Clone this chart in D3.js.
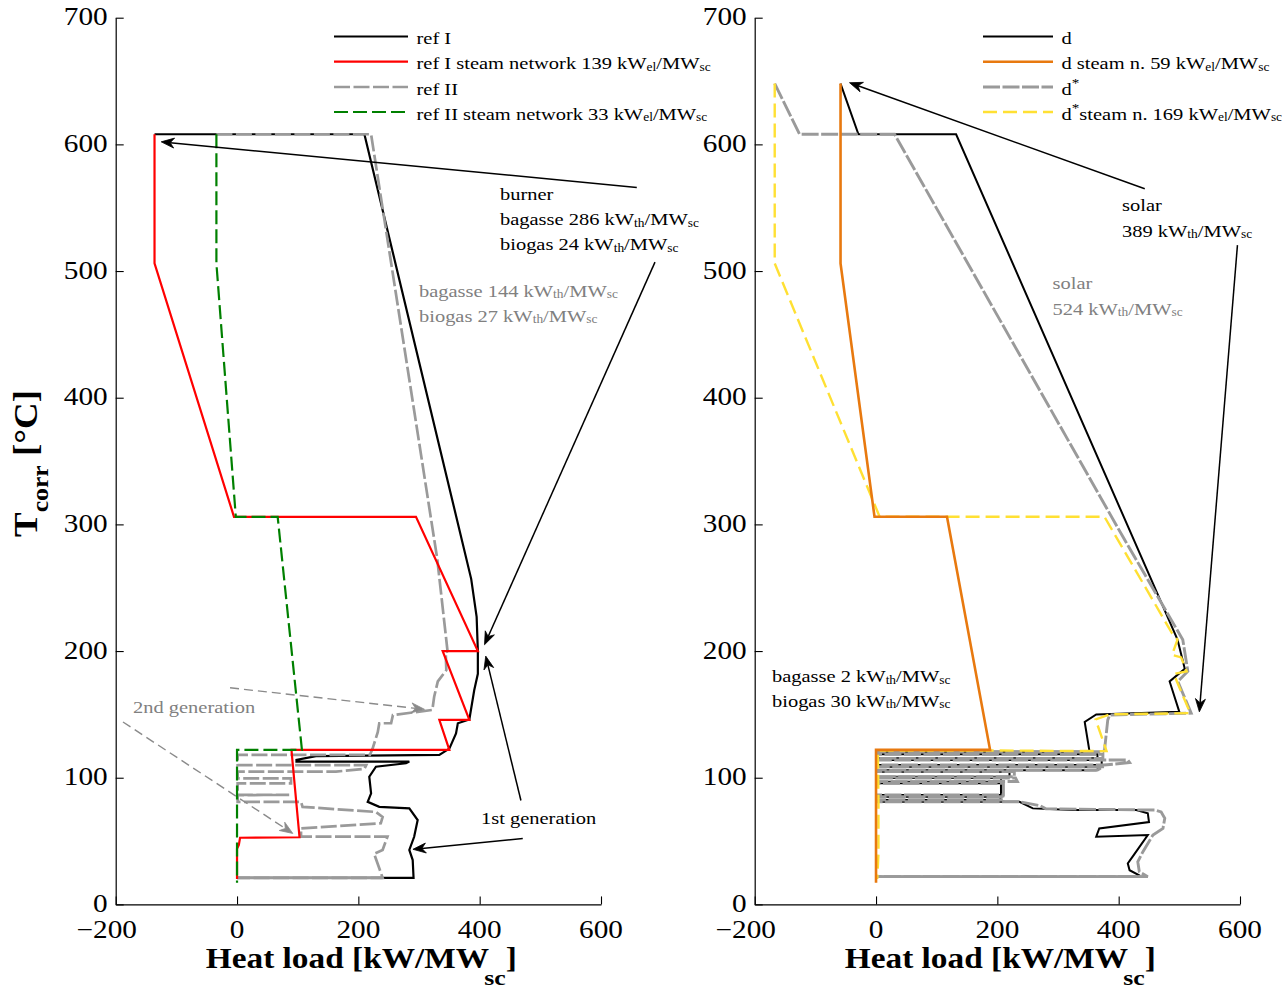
<!DOCTYPE html>
<html><head><meta charset="utf-8">
<script src="https://cdn.jsdelivr.net/npm/d3@7"></script>
<style>html,body{margin:0;padding:0;background:#fff} text{white-space:pre}</style>
</head><body><svg id="c" width="1285" height="989"></svg>
<script>
// ---------------- data ----------------
const xTicks = [-200, 0, 200, 400, 600];
const yTicks = [0, 100, 200, 300, 400, 500, 600, 700];

// left panel: [heat load kW/MWsc, Tcorr °C]
const refI = [[-136,608],[210,608],[386,257],[395,227],[397,200],[397,182],[391,169],[383,146],[364,143],[361,135],[350,123],[333.5,118],[130,117],[98,114],[98,112.7],[284,112.7],[278.6,111.4],[229,108.7],[218,100.8],[221,87.7],[215.4,81],[234.5,77],[284,75.8],[297.8,66.6],[292,53.4],[284,43],[289.6,35],[291,21],[0,21]];
const refISteam = [[-136,608],[-136,506],[-5,306],[295,306],[397,200],[339,200],[383,145.6],[333.5,145.6],[350,122],[90,122],[90,120.5],[103,53],[5,52.6],[3,47],[0,44],[0,20]];
const refII = [[-34,608],[221,608],[330,273],[347,200],[344,199],[345,185],[331,176],[325,164],[322,153.5],[257,149.5],[254,143],[234.5,143],[232,136],[223.5,123],[219,118],[1,118],[1,110],[213,110],[210,107],[163,104.8],[1,104.8],[1,99.5],[89,99.5],[89,95.6],[1,95.6],[1,86.4],[86,86.4],[1,86.3],[1,81],[105.5,81],[108,77],[229,73],[240,69],[237,64],[105.5,60],[105.5,53.5],[248,53.5],[240,43],[226,40],[234.5,28.5],[240,21],[0,21]];
const refIISteam = [[-34,608],[-34,506],[-2,306],[67,306],[107,122],[0,122],[0,17]];

// right panel
const dCase = [[-58.5,648],[-29,608],[132,608],[455,255],[497,209],[509,186],[484,176],[500,152],[363,150],[344,144],[352,120.5],
  [1,120.5],[1,118.5],[365,118.5],[365,115.3],[1,115.3],[1,114],[372,114],[372,110],[1,110],[1,108.7],[372,108.7],[363,106],[1,106],[1,104.8],[220,104.8],[220,100.8],[1,100.8],[1,99.8],[206,99.8],[206,96.9],[1,96.9],[1,95.6],[206,95.6],[206,86.4],[1,86.4],[1,85],[205,85],[205,82.4],[1,82.4],[1,81],[236.5,81],[258.5,75.8],[324,74.5],[429,74.5],[448,72],[450,65],[368,60],[363,53.5],[448,54.8],[423,37.7],[415,32.4],[418,27],[434,23],[434,21.9],[0,21.9]];
const dSteam = [[-58.5,648],[-58.5,506],[-2.5,306],[117,306],[188,122],[0,122],[0,17]];
const dStar = [[-167,648],[-126,608],[30.5,608],[409.6,288],[505.7,209],[514,184],[497.5,176],[519.5,151],[385,149.5],[382,145.6],[376.7,122],
  [374,120.5],[1,120.5],[1,118.5],[374,118.5],[374,115.3],[1,115.3],[1,114],[415,114],[418,112],[376,110],[1,110],[1,108.7],[375,108.7],[365,106],[1,106],[1,104.8],[228,104.8],[228,100.8],[1,100.8],[1,99.8],[230,99.8],[233,97],[1,96.9],[1,95.6],[210,95.6],[210,86.4],[1,86.4],[1,85],[209,85],[209,82.4],[1,82.4],[1,81],[236.5,81],[270,78],[280,75.5],[460,74.5],[470,73],[476,68],[473,60],[456.5,54.8],[440,41.6],[431.5,33.7],[434,25.8],[448,21.9],[0,21.9]];
const dStarSteam = [[-167,648],[-167,506],[6,306],[376.6,306],[488,214],[497,209],[488,197],[503,195],[512,184],[491,182],[496,176],[518,151],[385,150],[362,146],[380,121],[187,121.5],[3,121.5],[4,80],[4,40],[2,20]];

// annotation arrows [from, to] in data units
const arrowsL = [[[659,566],[-125,602]],[[689,507],[408,205]],[[468,82],[410,196]],[[471,52],[290,43.5]]];
const grayArrowsL = [[[-11.5,171],[309,154]],[[-188,144],[92,56]]];
const arrowsR = [[[443,565],[-43.7,648.7]],[[595.8,520.5],[533,152]]];

const legendL = ['ref I', 'ref I steam network 139 kW_{el}/MW_{sc}', 'ref II', 'ref II steam network 33 kW_{el}/MW_{sc}'];
const legendR = ['d', 'd steam n. 59 kW_{el}/MW_{sc}', 'd^{*}', 'd^{*}steam n. 169 kW_{el}/MW_{sc}'];

const notesL = [
  {t:'burner', x:500, y:200, c:'#000'},
  {t:'bagasse 286 kW_{th}/MW_{sc}', x:500, y:225, c:'#000'},
  {t:'biogas 24 kW_{th}/MW_{sc}', x:500, y:250, c:'#000'},
  {t:'bagasse 144 kW_{th}/MW_{sc}', x:419, y:296.5, c:'#808080'},
  {t:'biogas 27 kW_{th}/MW_{sc}', x:419, y:321.5, c:'#808080'},
  {t:'2nd generation', x:133, y:713, c:'#808080'},
  {t:'1st generation', x:481, y:824, c:'#000'}
];
const notesR = [
  {t:'solar', x:1122, y:211, c:'#000'},
  {t:'389 kW_{th}/MW_{sc}', x:1122, y:236.5, c:'#000'},
  {t:'solar', x:1052.5, y:288.5, c:'#808080'},
  {t:'524 kW_{th}/MW_{sc}', x:1052.5, y:314.5, c:'#808080'},
  {t:'bagasse 2 kW_{th}/MW_{sc}', x:772, y:682, c:'#000'},
  {t:'biogas 30 kW_{th}/MW_{sc}', x:772, y:706.5, c:'#000'}
];

// ---------------- drawing ----------------
const SX = 1.17;
const FONT = "'Liberation Serif','Times New Roman',Times,serif";
const svg = d3.select('#c');
svg.append('rect').attr('width',1285).attr('height',989).attr('fill','#fff');
const y = d3.scaleLinear().domain([0,700]).range([904.4,17.7]);
const xL = d3.scaleLinear().domain([-200,600]).range([115.7,601]);
const xR = d3.scaleLinear().domain([-200,600]).range([754.7,1240]);

function addText(parent, x, yy, spec, o={}){
  const size = o.size || 17.5;
  const t = parent.append('text')
    .attr('transform', o.transform || `translate(${x},${yy}) scale(${SX},1)`)
    .attr('font-family', FONT).attr('font-size', size)
    .attr('text-anchor', o.anchor || 'start')
    .attr('fill', o.fill || '#000').attr('font-weight', o.weight || 'normal');
  const parts = spec.split(/(_\{[^}]*\}|\^\{[^}]*\})/).filter(s => s.length);
  let shift = 0;
  parts.forEach(p => {
    let txt = p, sz = size, target = 0;
    if (p.startsWith('_{')) { txt = p.slice(2,-1); sz = o.subSize || size*0.64; target = (o.subShift !== undefined) ? o.subShift : size*0.08; }
    else if (p.startsWith('^{')) { txt = p.slice(2,-1); sz = o.supSize || size*0.72; target = (o.supShift !== undefined) ? o.supShift : -size*0.45; }
    const ts = t.append('tspan').attr('font-size', sz).text(txt);
    if (o.kern && p.startsWith('_{')) ts.attr('dx', o.kern);
    if (target !== shift) { ts.attr('dy', target - shift); shift = target; }
  });
  return t;
}

function arrow(g, x, a, color, dashed){
  const x1 = x(a[0][0]), y1 = y(a[0][1]), x2 = x(a[1][0]), y2 = y(a[1][1]);
  const ang = Math.atan2(y2-y1, x2-x1), L = 13, Wd = 5, N = 4;
  const c = Math.cos(ang), s = Math.sin(ang), px = -s, py = c;
  const bx = x2 - c*(L-N), by = y2 - s*(L-N);
  g.append('line').attr('x1',x1).attr('y1',y1).attr('x2',bx).attr('y2',by)
    .attr('stroke',color).attr('stroke-width',dashed?1.4:1.5)
    .attr('stroke-dasharray', dashed ? '9,5' : null);
  const pts = [[x2,y2],[x2-c*L+px*Wd, y2-s*L+py*Wd],[bx,by],[x2-c*L-px*Wd, y2-s*L-py*Wd]];
  g.append('path').attr('d','M'+pts.map(p=>p.join(',')).join('L')+'Z').attr('fill',color).attr('stroke',color).attr('stroke-width',0.8);
}

function panel(x, series, drawOrder, legend, legendX0, legendX1, legendTextX, notes, arrows, grayArrows){
  const g = svg.append('g');
  const line = d3.line().x(d => x(d[0])).y(d => y(d[1]));
  drawOrder.forEach(i => {
    const s = series[i];
    g.append('path').attr('d', line(s.data)).attr('fill','none')
      .attr('stroke', s.color).attr('stroke-width', s.w)
      .attr('stroke-dasharray', s.dash || null)
      .attr('stroke-linejoin','miter').attr('stroke-miterlimit',3);
    if (s.solidTail) {
      g.append('path').attr('d', line(s.data.slice(-2))).attr('fill','none')
        .attr('stroke', s.color).attr('stroke-width', s.w);
    }
  });
  // axes (inward ticks)
  const ax = g.append('g').attr('transform',`translate(0,${y(0)})`)
    .call(d3.axisBottom(x).tickValues(xTicks).tickSizeInner(-8).tickSizeOuter(0).tickFormat(''));
  const ay = g.append('g').attr('transform',`translate(${x(-200)},0)`)
    .call(d3.axisLeft(y).tickValues(yTicks).tickSizeInner(-8).tickSizeOuter(0).tickFormat(''));
  [ax, ay].forEach(a => {
    a.selectAll('text').remove();
    a.select('.domain').attr('stroke','#000').attr('stroke-width',1.2);
    a.selectAll('.tick line').attr('stroke','#000').attr('stroke-width',1.1);
  });
  xTicks.forEach(t => {
    const lab = t < 0 ? '\u2212' + Math.abs(t) : String(t);
    addText(g, x(t) + (t < 0 ? -9 : 0), 937.5, lab, {size:25, anchor:'middle'});
  });
  yTicks.forEach(t => {
    addText(g, x(-200) - 8, y(t) + 7.5, String(t), {size:25, anchor:'end'});
  });
  // x title
  addText(g, x(200) + 3, 968, 'Heat load [kW/MW_{sc}]', {size:28.5, weight:'bold', anchor:'middle', subSize:22, subShift:17, kern:-4});
  // legend
  const ly = [36.5, 61.7, 87, 112];
  legend.forEach((lab, i) => {
    const s = series[i];
    g.append('line').attr('x1',legendX0).attr('x2',legendX1).attr('y1',ly[i]).attr('y2',ly[i])
      .attr('stroke', s.color).attr('stroke-width', s.w).attr('stroke-dasharray', s.dash || null);
    addText(g, legendTextX, ly[i] + 7.5, lab, {size:17.5, subSize:11.5, subShift:1.5, supSize:13, supShift:-8});
  });
  // annotations
  notes.forEach(n => addText(g, n.x, n.y, n.t, {size:17.5, fill:n.c, subSize:11.5, subShift:1.5}));
  arrows.forEach(a => arrow(g, x, a, '#000', false));
  grayArrows.forEach(a => arrow(g, x, a, '#8a8a8a', true));
  return g;
}

const GRAY = '#9a9a9a';
// series listed in legend order; drawOrder gives stacking
panel(xL, [
  {data: refI, color:'#000', w:2.2},
  {data: refISteam, color:'#ff0000', w:2.2},
  {data: refII, color:GRAY, w:2.7, dash:'16,3.5', solidTail:true},
  {data: refIISteam, color:'#008000', w:2.2, dash:'14,5'}
], [0,2,1,3], legendL, 334, 408, 416.5, notesL, arrowsL, grayArrowsL);

panel(xR, [
  {data: dCase, color:'#000', w:2.0},
  {data: dSteam, color:'#e8790f', w:2.6},
  {data: dStar, color:GRAY, w:2.9, dash:'17,2.5', solidTail:true},
  {data: dStarSteam, color:'#ffe033', w:2.4, dash:'14,6'}
], [0,2,3,1], legendR, 983, 1053, 1061.5, notesR, arrowsR, []);

// y title (rotated, widened along its own direction like the other texts)
addText(svg, 0, 0, 'T_{corr} [°C]', {size:33, weight:'bold', subSize:23, subShift:11,
  transform:`translate(37,537) rotate(-90) scale(1.12,1)`});
</script>
</body></html>
